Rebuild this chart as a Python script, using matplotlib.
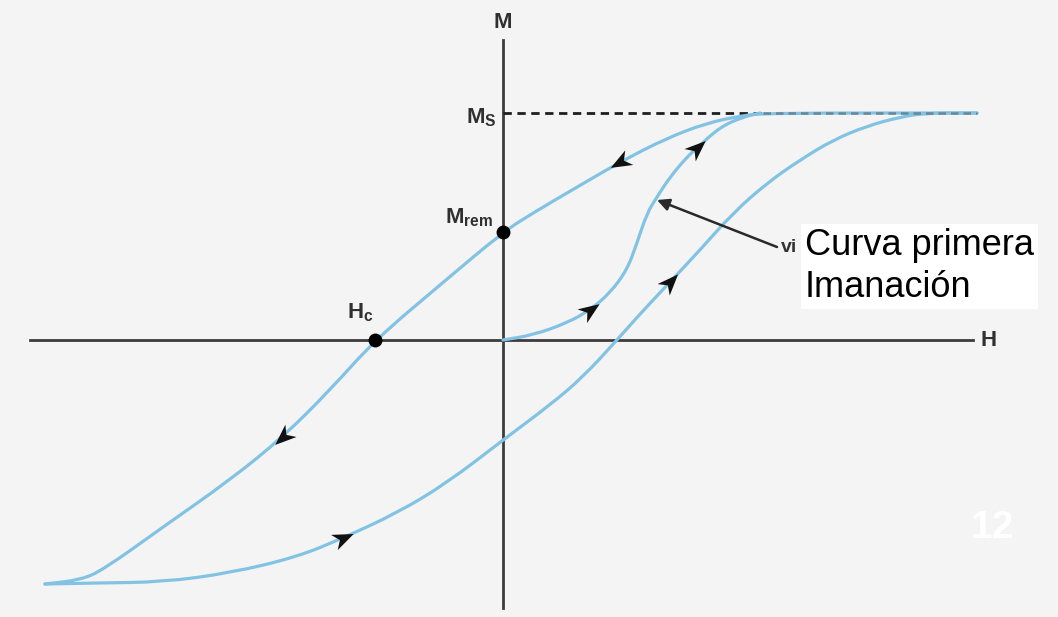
import numpy as np
import matplotlib.pyplot as plt
from matplotlib.path import Path
from matplotlib.patches import PathPatch
from matplotlib.markers import MarkerStyle
from matplotlib.transforms import Affine2D

plt.rcParams['font.family'] = ['Liberation Sans', 'DejaVu Sans']
plt.rcParams['mathtext.fontset'] = 'custom'
plt.rcParams['mathtext.rm'] = 'Liberation Sans'
plt.rcParams['mathtext.bf'] = 'Liberation Sans:bold'
plt.rcParams['mathtext.default'] = 'bf'

# hysteresis loop, descending branch (from saturation back to negative tip)
desc_H = [4.74, 2.64, 2.37, 2.04, 1.64, 1.17, 0.64, 0.30, 0.00, -0.63, -1.28,
          -1.73, -2.20, -2.73, -3.40, -4.00, -4.23, -4.58]
desc_M = [2.27, 2.27, 2.24, 2.17, 2.02, 1.78, 1.47, 1.27, 1.08, 0.55, 0.00,
          -0.50, -0.97, -1.40, -1.87, -2.30, -2.40, -2.44]

# ascending branch (negative tip up to saturation)
asc_H = [-4.58, -4.06, -3.40, -2.73, -2.06, -1.60, -1.06, -0.56, 0.00, 0.47,
         0.80, 1.14, 1.37, 1.67, 1.97, 2.30, 2.64, 2.97, 3.30, 3.64, 3.97,
         4.24, 4.74]
asc_M = [-2.44, -2.43, -2.42, -2.33, -2.17, -1.98, -1.73, -1.43, -1.00, -0.65,
         -0.37, 0.00, 0.26, 0.58, 0.90, 1.27, 1.57, 1.80, 2.00, 2.14, 2.23,
         2.27, 2.27]

# first magnetization curve
init_H = [0.00, 0.30, 0.64, 0.87, 1.07, 1.24, 1.34, 1.44, 1.54, 1.67, 1.84,
          1.94, 2.17, 2.40, 2.57]
init_M = [0.00, 0.05, 0.17, 0.30, 0.47, 0.70, 0.97, 1.27, 1.43, 1.63, 1.83,
          1.92, 2.13, 2.23, 2.27]

Ms = 2.27
Mrem = 1.08
Hc = -1.28

# where the direction arrows sit (index into each branch)
desc_arrows = [5, 12]
asc_arrows = [5, 13]
init_arrows = [3, 11]

blue = '#82c3e4'
axis_col = '#3c3c3c'

fig = plt.figure(figsize=(10.58, 6.17), dpi=100)
fig.patch.set_facecolor('#f4f4f4')
ax = fig.add_axes([0, 0, 1, 1])
ax.set_xlim(-5.03, 5.55)
ax.set_ylim(-2.77, 3.40)
ax.axis('off')

# axes of the diagram
ax.plot([0, 0], [-2.68, 3.00], color=axis_col, lw=2.0, zorder=2)
ax.plot([-4.73, 4.70], [0, 0], color=axis_col, lw=2.0, zorder=2)

# saturation level
ax.plot([0, 2.6], [Ms, Ms], color='#1e1e1e', lw=2.0, ls=(0, (3, 2)), zorder=2)
ax.plot([2.6, 4.74], [Ms, Ms], color='#6a8797', lw=1.8, ls=(0, (3, 2)), zorder=4)


def smooth_branch(hh, mm):
    # quadratic bezier pieces between midpoints, points act as control points
    p = np.column_stack([hh, mm])
    verts = [p[0], (p[0] + p[1]) / 2]
    codes = [Path.MOVETO, Path.LINETO]
    for i in range(1, len(p) - 1):
        verts += [p[i], (p[i] + p[i + 1]) / 2]
        codes += [Path.CURVE3, Path.CURVE3]
    verts.append(p[-1])
    codes.append(Path.LINETO)
    return PathPatch(Path(verts, codes), fc='none', ec=blue, lw=2.3,
                     capstyle='round', zorder=3)


for hh, mm in [(desc_H, desc_M), (asc_H, asc_M), (init_H, init_M)]:
    ax.add_patch(smooth_branch(hh, mm))

# barbed arrowhead marker
head = Path([(1.0, 0.0), (-0.9, 0.75), (-0.35, 0.0), (-0.9, -0.75), (1.0, 0.0)],
            [Path.MOVETO, Path.LINETO, Path.LINETO, Path.LINETO, Path.CLOSEPOLY])


def put_arrows(hh, mm, idx):
    hh = np.asarray(hh)
    mm = np.asarray(mm)
    for i in idx:
        ang = np.degrees(np.arctan2(mm[i + 1] - mm[i - 1], hh[i + 1] - hh[i - 1]))
        mk = MarkerStyle(head, transform=Affine2D().rotate_deg(ang))
        ax.plot(hh[i], mm[i], marker=mk, ms=16, color='#111111', mew=0,
                ls='none', zorder=5)


put_arrows(desc_H, desc_M, desc_arrows)
put_arrows(asc_H, asc_M, asc_arrows)
put_arrows(init_H, init_M, init_arrows)

# remanence and coercive field points
ax.plot([0, Hc], [Mrem, 0], 'o', color='black', ms=9, zorder=6)

lab = dict(fontsize=16, color='#303030', fontweight='bold')
ax.text(0, 3.18, 'M', ha='center', va='center', **lab)
ax.text(4.86, 0.0, 'H', ha='center', va='center', **lab)
ax.text(-0.06, Ms - 0.05, '$M_S$', ha='right', va='center', **lab)
ax.text(-0.10, Mrem + 0.14, '$M_{rem}$', ha='right', va='center', **lab)
ax.text(-1.43, 0.27, '$H_c$', ha='center', va='center', **lab)

# pointer to the first magnetization curve
ax.annotate('', xy=(1.54, 1.40), xytext=(2.74, 0.93),
            arrowprops=dict(arrowstyle='-|>', color='#2a2a2a', lw=1.8,
                            mutation_scale=18, shrinkA=0, shrinkB=0), zorder=6)
ax.text(2.78, 0.93, 'vi', ha='left', va='center', fontsize=14, color='#333333',
        fontweight='bold', zorder=6)
ax.text(3.02, 1.12, 'Curva primera\nImanación', ha='left', va='top',
        fontsize=26, color='black', fontweight='normal', linespacing=1.25,
        zorder=7, bbox=dict(boxstyle='square,pad=0.12', fc='white', ec='none'))

# page number
ax.text(4.89, -1.88, '12', ha='center', va='center', fontsize=28,
        fontweight='bold', color='white', zorder=7)

fig.savefig('out.png', dpi=100, facecolor=fig.get_facecolor())
